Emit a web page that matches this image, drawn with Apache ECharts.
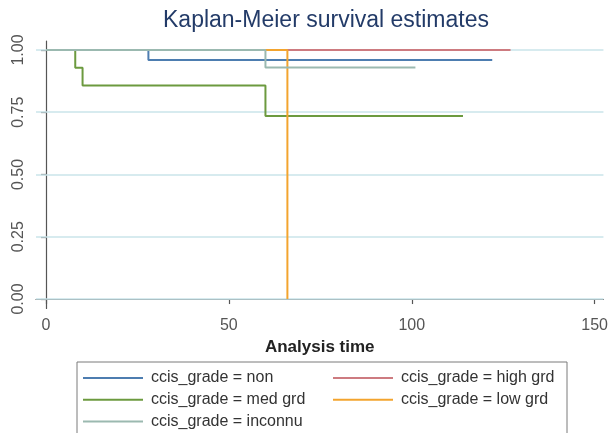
<!DOCTYPE html>
<html>
<head>
<meta charset="utf-8">
<script src="https://cdn.jsdelivr.net/npm/echarts@6/dist/echarts.min.js"></script>
<style>
html,body{margin:0;padding:0;background:#fff;}
#chart{width:611px;height:433px;}
</style>
</head>
<body>
<div id="chart"></div>
<script>
// ---- data ----
const seriesNames = ['ccis_grade = non', 'ccis_grade = high grd', 'ccis_grade = med grd', 'ccis_grade = low grd', 'ccis_grade = inconnu'];
const nonTime = [0, 28, 122];
const nonSurv = [1, 0.96, 0.96];
const highTime = [0, 127];
const highSurv = [1, 1];
const medTime = [0, 8, 10, 60, 114];
const medSurv = [1, 0.929, 0.857, 0.735, 0.735];
const lowTime = [0, 66];
const lowSurv = [1, 0];
const incTime = [0, 60, 101];
const incSurv = [1, 0.93, 0.93];
const xTicks = [0, 50, 100, 150];
const yTicks = [0, 0.25, 0.5, 0.75, 1];
const yTickLabels = ['0.00', '0.25', '0.50', '0.75', '1.00'];
const colors = ['#4d7db0', '#cd7b80', '#6c9a3f', '#f3a42e', '#9bb9b0'];

const pairs = (t, s) => t.map((v, i) => [v, s[i]]);
const curves = [pairs(nonTime, nonSurv), pairs(highTime, highSurv), pairs(medTime, medSurv), pairs(lowTime, lowSurv), pairs(incTime, incSurv)];

const font = 'Liberation Sans, Arial, sans-serif';
const chart = echarts.init(document.getElementById('chart'), null, {renderer: 'canvas'});

const series = [{
  name: 'grid',
  type: 'line',
  data: [],
  z: 1,
  silent: true,
  markLine: {
    z: 1,
    silent: true,
    symbol: 'none',
    animation: false,
    label: {show: false},
    lineStyle: {color: '#cae4ea', width: 1.5, type: 'solid'},
    data: yTicks.map(v => ({yAxis: v}))
  }
}].concat(seriesNames.map((n, i) => ({
  name: n,
  type: 'line',
  step: 'end',
  data: curves[i],
  showSymbol: false,
  symbol: 'none',
  z: 2 + i,
  color: colors[i],
  lineStyle: {color: colors[i], width: 2},
  emphasis: {disabled: true}
})));

chart.setOption({
  animation: false,
  backgroundColor: '#ffffff',
  title: {
    text: 'Kaplan-Meier survival estimates',
    left: 163, top: 9, padding: 0,
    textStyle: {fontFamily: font, fontSize: 23, fontWeight: 'normal', color: '#233b68'}
  },
  grid: {left: 36, right: 6, top: 41, bottom: 124.5, containLabel: false},
  xAxis: {
    type: 'value', min: -2.73, max: 152.4,
    name: 'Analysis time', nameLocation: 'middle', nameGap: 28,
    nameTextStyle: {fontFamily: font, fontSize: 17, fontWeight: 'bold', color: '#222'},
    axisLine: {show: true, lineStyle: {color: '#555', width: 1.2}},
    axisTick: {show: true, length: 5, lineStyle: {color: '#555', width: 1.2}, customValues: xTicks},
    axisLabel: {customValues: xTicks, margin: 9, fontFamily: font, fontSize: 16, color: '#555'},
    splitLine: {show: false}
  },
  yAxis: {
    type: 'value', min: -0.038, max: 1.036,
    axisLine: {show: true, lineStyle: {color: '#555', width: 1.2}},
    axisTick: {show: true, length: 5, lineStyle: {color: '#555', width: 1.2}, customValues: yTicks},
    axisLabel: {customValues: yTicks, rotate: 90, margin: 9, fontFamily: font, fontSize: 16, color: '#555',
      formatter: v => { const i = yTicks.indexOf(v); return i >= 0 ? yTickLabels[i] : ''; }},
    splitLine: {show: false}
  },
  legend: [{
    data: [seriesNames[0], seriesNames[2], seriesNames[4]],
    orient: 'vertical', left: 83, top: 369, padding: 0,
    itemWidth: 60, itemHeight: 2, itemGap: 3.7, icon: 'rect',
    selectedMode: false,
    textStyle: {fontFamily: font, fontSize: 16, color: '#333', lineHeight: 18, padding: [0, 0, 0, 3]}
  }, {
    data: [seriesNames[1], seriesNames[3]],
    orient: 'vertical', left: 333, top: 369, padding: 0,
    itemWidth: 60, itemHeight: 2, itemGap: 3.7, icon: 'rect',
    selectedMode: false,
    textStyle: {fontFamily: font, fontSize: 16, color: '#333', lineHeight: 18, padding: [0, 0, 0, 3]}
  }],
  graphic: [{
    type: 'rect', z: -1, silent: true,
    shape: {x: 77, y: 362, width: 490, height: 100},
    style: {fill: '#fff', stroke: '#7a7a7a', lineWidth: 1}
  }],
  series: series
});
</script>
</body>
</html>
